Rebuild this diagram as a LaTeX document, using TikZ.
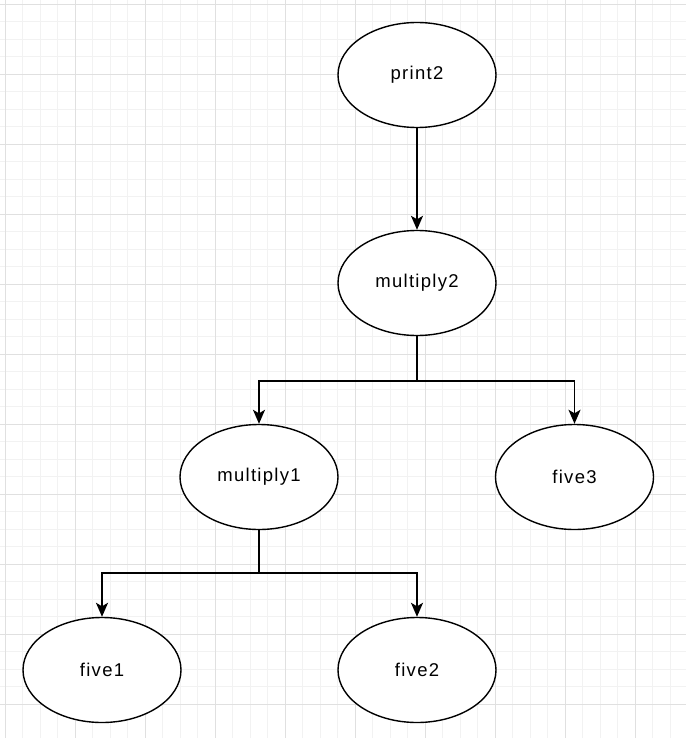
\documentclass[tikz,border=0pt]{standalone}
\usepackage{fontspec}
\setmainfont{Liberation Sans}
\newfontfamily\lblfont[LetterSpace=7]{Liberation Sans}
\usetikzlibrary{shapes.geometric,arrows.meta}
\tikzset{
  treenode/.style={ellipse,draw=black,line width=1.4pt,fill=white,minimum width=158pt,minimum height=105pt,inner sep=0pt,font=\lblfont\fontsize{18.5}{21}\selectfont},
  arr/.style={line width=1.9pt,-{Stealth[length=14pt,width=12pt,inset=3.5pt]}},
  plainline/.style={line width=1.9pt},
  gridminor/.style={line width=0.8pt,draw=black!5},
  gridmajor/.style={line width=1pt,draw=black!12}
}
\begin{document}
\begin{tikzpicture}[x=1pt,y=-1pt]
\useasboundingbox (0,0) rectangle (686,738);
\fill[white] (0,0) rectangle (686,738);
% grid
\foreach \i in {-1,...,40} {
  \draw[gridminor] ({5.2+17.5*\i},0) -- ({5.2+17.5*\i},738);
  \draw[gridminor] (0,{4.3+17.5*\i}) -- (686,{4.3+17.5*\i});
}
\foreach \i in {0,...,10} {
  \draw[gridmajor] ({5.2+70*\i},0) -- ({5.2+70*\i},738);
  \draw[gridmajor] (0,{4.3+70*\i}) -- (686,{4.3+70*\i});
}
% nodes
\node[treenode] (p2) at (417,75) {print2};
\node[treenode] (m2) at (417,283) {multiply2};
\node[treenode] (m1) at (259,477) {multiply1};
\node[treenode] (f3) at (574.5,477) {five3};
\node[treenode] (f1) at (102,670) {five1};
\node[treenode] (f2) at (417,670) {five2};
% connectors
\coordinate (j2) at (417,381);
\coordinate (j1) at (259,573);
\draw[arr] (p2.south) -- (m2.north);
\draw[plainline] (m2.south) -- (j2);
\draw[arr] (j2) -| (m1.north);
\draw[arr] (j2) -| (f3.north);
\draw[plainline] (m1.south) -- (j1);
\draw[arr] (j1) -| (f1.north);
\draw[arr] (j1) -| (f2.north);
\end{tikzpicture}
\end{document}
